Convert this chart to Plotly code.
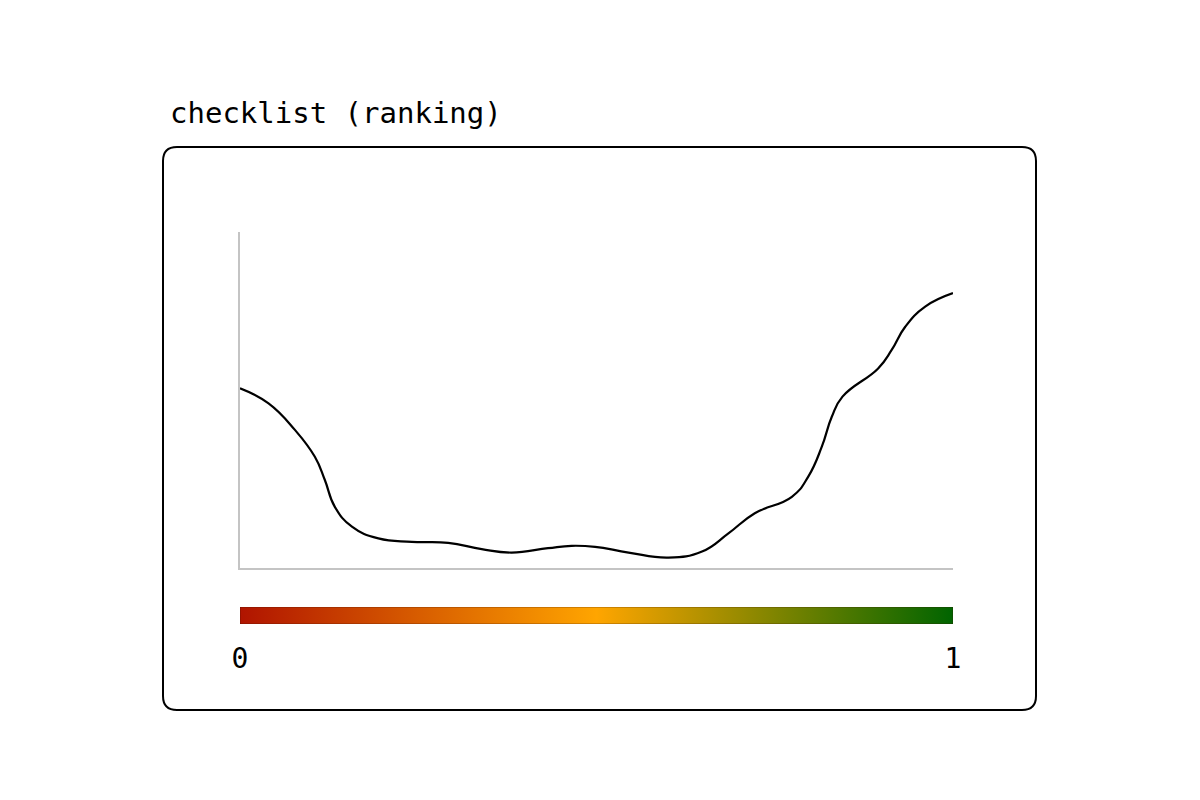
import plotly.graph_objects as go

# ranking density curve (x = rank position 0..1)
rank_x = [0.0, 0.040, 0.077, 0.105, 0.119, 0.133, 0.157, 0.194, 0.241, 0.292,
          0.339, 0.381, 0.432, 0.465, 0.498, 0.545, 0.601, 0.648, 0.685, 0.722,
          0.774, 0.797, 0.816, 0.830, 0.845, 0.895, 0.914, 0.933, 0.961, 1.0]
density = [0.535, 0.490, 0.411, 0.331, 0.262, 0.182, 0.123, 0.088, 0.078, 0.075,
           0.056, 0.046, 0.059, 0.066, 0.063, 0.046, 0.031, 0.049, 0.103, 0.163,
           0.212, 0.272, 0.361, 0.450, 0.510, 0.594, 0.649, 0.718, 0.778, 0.818]

# colour legend under the chart
scale_stops = [0.0, 0.5, 1.0]
scale_colors = ["#b01400", "orange", "darkgreen"]
tick_vals = [0, 1]
tick_text = ["0", "1"]

title_text = "checklist (ranking)"
mono = "DejaVu Sans Mono"

# page puts the figure 8px in from the corner
OFF = 8
W, H = 1200, 800
L, T = 232, 224
plot_w = 713
R = W - L - plot_w
B = H - 616
plot_h = H - T - B


def px_x(p):
    return (p - OFF - L) / plot_w


def px_y(p):
    return (H - B - (p - OFF)) / plot_h


fig = go.Figure()

fig.add_trace(go.Scatter(
    x=rank_x, y=density, mode="lines",
    line=dict(color="black", width=2.2, shape="spline", smoothing=1.3),
    hoverinfo="skip", xaxis="x", yaxis="y"))

# gradient bar
fig.add_trace(go.Scatter(
    x=[0, 1, 1, 0, 0], y=[0, 0, 1, 1, 0], mode="lines",
    fill="toself",
    fillgradient=dict(type="horizontal",
                      colorscale=[[s, c] for s, c in zip(scale_stops, scale_colors)]),
    line=dict(color="rgba(60,20,0,0.45)", width=1),
    hoverinfo="skip", xaxis="x2", yaxis="y2"))

bar_top = px_y(607)
curve_bottom = px_y(568)

fig.update_layout(
    width=W, height=H,
    margin=dict(l=L, r=R, t=T, b=B),
    paper_bgcolor="white", plot_bgcolor="white",
    showlegend=False,
    xaxis=dict(domain=[0, 1], range=[0, 1], anchor="y",
               showgrid=False, zeroline=False, showticklabels=False,
               showline=True, linecolor="#c4c4c4", linewidth=2),
    yaxis=dict(domain=[curve_bottom, 1], range=[0, 1], anchor="x",
               showgrid=False, zeroline=False, showticklabels=False,
               showline=True, linecolor="#c4c4c4", linewidth=2),
    xaxis2=dict(domain=[0, 1], range=[0, 1], anchor="y2", matches="x",
                showgrid=False, zeroline=False, showline=False,
                tickvals=tick_vals, ticktext=tick_text,
                ticks="outside", ticklen=9, tickcolor="rgba(0,0,0,0)",
                tickfont=dict(family=mono, size=28, color="black")),
    yaxis2=dict(domain=[0, bar_top], range=[0, 1], anchor="x2",
                showgrid=False, zeroline=False, showticklabels=False,
                showline=False),
)

# card frame around the chart
x0, x1 = px_x(163), px_x(1036)
y0, y1 = px_y(710), px_y(147)
rx, ry = 14 / plot_w, 14 / plot_h
frame = (f"M {x0 + rx},{y1} L {x1 - rx},{y1} Q {x1},{y1} {x1},{y1 - ry} "
         f"L {x1},{y0 + ry} Q {x1},{y0} {x1 - rx},{y0} "
         f"L {x0 + rx},{y0} Q {x0},{y0} {x0},{y0 + ry} "
         f"L {x0},{y1 - ry} Q {x0},{y1} {x0 + rx},{y1} Z")
fig.add_shape(type="path", path=frame, xref="paper", yref="paper",
              line=dict(color="black", width=2), layer="below")

fig.add_annotation(text=title_text, x=px_x(168), y=px_y(113),
                   xref="paper", yref="paper", xanchor="left", yanchor="middle",
                   showarrow=False,
                   font=dict(family=mono, size=29, color="black"))

fig.write_html("out.html")
